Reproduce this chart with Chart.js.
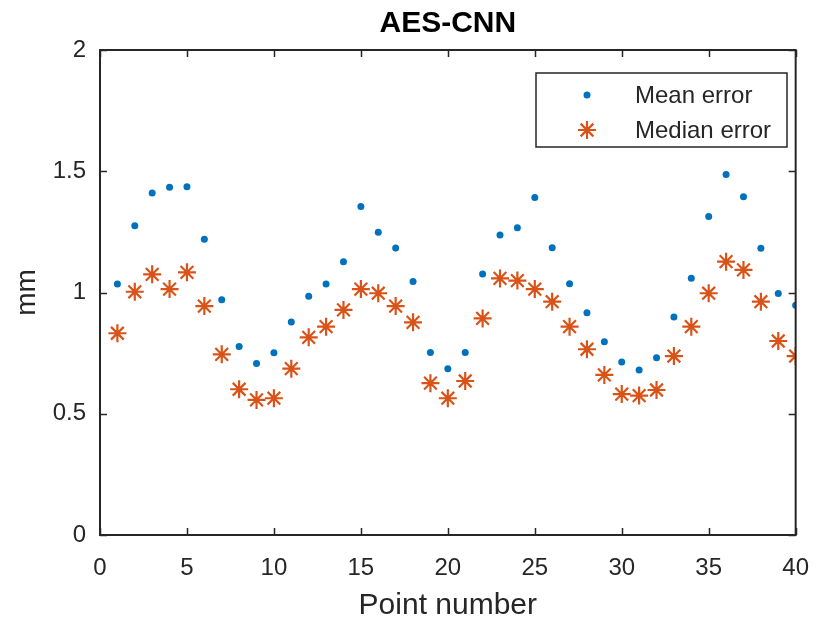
<!DOCTYPE html>
<html>
<head>
<meta charset="utf-8">
<title>AES-CNN</title>
<script src="https://cdn.jsdelivr.net/npm/chart.js@4.4.1/dist/chart.umd.min.js"></script>
<style>
  html, body { margin: 0; padding: 0; background: #fff; }
  #wrap { width: 828px; height: 622px; }
</style>
</head>
<body>
<div id="wrap"><canvas id="errChart" width="828" height="622"></canvas></div>
<script>
// point numbers 1..40 and the two error series (mm)
const pointNumbers = [
    1, 2, 3, 4, 5, 6, 7, 8, 9, 10,
    11, 12, 13, 14, 15, 16, 17, 18, 19, 20,
    21, 22, 23, 24, 25, 26, 27, 28, 29, 30,
    31, 32, 33, 34, 35, 36, 37, 38, 39, 40
];
const meanError = [
    1.035, 1.275, 1.41, 1.434, 1.436, 1.22, 0.97, 0.777, 0.707, 0.752,
    0.878, 0.985, 1.035, 1.127, 1.355, 1.248, 1.183, 1.045, 0.753, 0.686,
    0.753, 1.076, 1.237, 1.267, 1.392, 1.185, 1.036, 0.917, 0.797, 0.713,
    0.68, 0.731, 0.899, 1.059, 1.313, 1.487, 1.395, 1.182, 0.996, 0.947
];
const medianError = [
    0.832, 1.003, 1.075, 1.014, 1.083, 0.944, 0.745, 0.601, 0.557, 0.564,
    0.686, 0.815, 0.859, 0.928, 1.014, 0.997, 0.944, 0.877, 0.626, 0.564,
    0.635, 0.893, 1.058, 1.049, 1.014, 0.962, 0.859, 0.766, 0.66, 0.581,
    0.575, 0.598, 0.738, 0.859, 0.997, 1.127, 1.093, 0.962, 0.8, 0.738
];
const xTicks = [0, 5, 10, 15, 20, 25, 30, 35, 40];
const yTicks = [0, 0.5, 1, 1.5, 2];
const seriesNames = ['Mean error', 'Median error'];
const chartTitle = 'AES-CNN';

const axisColor = '#262626';
const fontFamily = '"Liberation Sans", Arial, Helvetica, sans-serif';

function toPoints(values) {
    return values.map((v, i) => ({ x: pointNumbers[i], y: v }));
}

// title centred over the axes, box round the plot area, inward ticks on all sides
const boxPlugin = {
    id: 'box',
    afterDraw(chart) {
        const { ctx, chartArea: a, scales } = chart;
        const tick = 7;
        ctx.save();
        ctx.fillStyle = '#000';
        ctx.font = 'bold 30px ' + fontFamily;
        ctx.textAlign = 'center';
        ctx.textBaseline = 'middle';
        ctx.fillText(chartTitle, (a.left + a.right) / 2, 24);

        ctx.strokeStyle = axisColor;
        ctx.lineWidth = 1.5;
        ctx.beginPath();
        xTicks.forEach(v => {
            const x = Math.round(scales.x.getPixelForValue(v)) + 0.5;
            ctx.moveTo(x, a.bottom); ctx.lineTo(x, a.bottom - tick);
            ctx.moveTo(x, a.top); ctx.lineTo(x, a.top + tick);
        });
        yTicks.forEach(v => {
            const y = Math.round(scales.y.getPixelForValue(v)) + 0.5;
            ctx.moveTo(a.left, y); ctx.lineTo(a.left + tick, y);
            ctx.moveTo(a.right, y); ctx.lineTo(a.right - tick, y);
        });
        ctx.stroke();
        ctx.lineWidth = 2;
        ctx.strokeRect(a.left, a.top, a.right - a.left, a.bottom - a.top);
        ctx.restore();
    }
};

// legend box in the upper right corner of the plot
const legendBoxPlugin = {
    id: 'legendBox',
    afterDraw(chart) {
        const { ctx } = chart;
        const left = 536, top = 73, w = 251, h = 74;
        ctx.save();
        ctx.fillStyle = '#fff';
        ctx.fillRect(left, top, w, h);
        ctx.strokeStyle = axisColor;
        ctx.lineWidth = 1.5;
        ctx.strokeRect(left, top, w, h);
        ctx.font = '24px ' + fontFamily;
        ctx.textBaseline = 'middle';
        ctx.textAlign = 'left';
        const rows = [95, 130];
        chart.data.datasets.forEach((ds, i) => {
            ctx.fillStyle = ds.backgroundColor;
            ctx.strokeStyle = ds.borderColor;
            ctx.lineWidth = ds.borderWidth;
            Chart.helpers.drawPoint(ctx, {
                pointStyle: ds.pointStyle,
                radius: ds.pointRadius,
                borderWidth: ds.borderWidth,
                rotation: 0
            }, 587, rows[i]);
            ctx.fillStyle = axisColor;
            ctx.fillText(ds.label, 635, rows[i] + 1);
        });
        ctx.restore();
    }
};

const ctx = document.getElementById('errChart').getContext('2d');
const chart = new Chart(ctx, {
    type: 'scatter',
    data: {
        datasets: [{
            label: seriesNames[0],
            data: toPoints(meanError),
            pointStyle: 'circle',
            pointRadius: 3.5,
            pointHoverRadius: 3.5,
            borderWidth: 0,
            backgroundColor: '#0072BD',
            borderColor: '#0072BD'
        }, {
            label: seriesNames[1],
            data: toPoints(medianError),
            pointStyle: 'star',
            pointRadius: 9,
            pointHoverRadius: 9,
            borderWidth: 2.2,
            backgroundColor: '#D95319',
            borderColor: '#D95319'
        }]
    },
    options: {
        responsive: false,
        animation: false,
        events: [],
        layout: { padding: { left: 0, right: 20, top: 50, bottom: 0 } },
        plugins: {
            legend: { display: false },
            tooltip: { enabled: false },
            title: { display: false }
        },
        scales: {
            x: {
                type: 'linear',
                min: 0,
                max: 40,
                afterFit(scale) { scale.height = 87; },
                afterBuildTicks(scale) { scale.ticks = xTicks.map(v => ({ value: v })); },
                grid: { display: false, drawTicks: false },
                border: { display: false },
                ticks: {
                    color: axisColor,
                    padding: 19,
                    maxRotation: 0,
                    callback: v => String(v),
                    font: { family: fontFamily, size: 24 }
                },
                title: {
                    display: true,
                    text: 'Point number',
                    color: axisColor,
                    padding: { top: 0, bottom: 0 },
                    font: { family: fontFamily, size: 30, lineHeight: 1.1 }
                }
            },
            y: {
                type: 'linear',
                min: 0,
                max: 2,
                afterFit(scale) { scale.width = 100; },
                afterBuildTicks(scale) { scale.ticks = yTicks.map(v => ({ value: v })); },
                grid: { display: false, drawTicks: false },
                border: { display: false },
                ticks: {
                    color: axisColor,
                    padding: 14,
                    callback: v => String(v),
                    font: { family: fontFamily, size: 24 }
                },
                title: {
                    display: true,
                    text: 'mm',
                    color: axisColor,
                    padding: { top: 10, bottom: 0 },
                    font: { family: fontFamily, size: 28, lineHeight: 1.2 }
                }
            }
        }
    },
    plugins: [boxPlugin, legendBoxPlugin]
});
</script>
</body>
</html>
